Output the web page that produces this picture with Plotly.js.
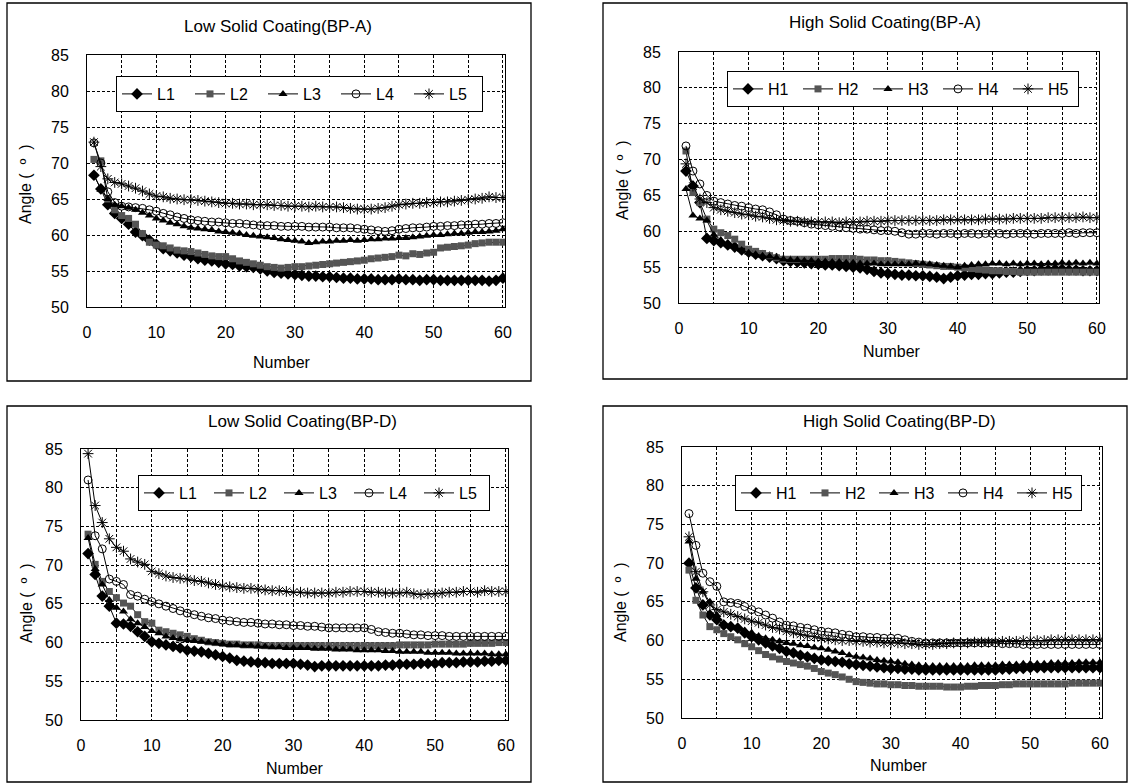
<!DOCTYPE html>
<html>
<head>
<meta charset="utf-8">
<script src="https://cdn.plot.ly/plotly-3.0.1.min.js"></script>
<style>html,body{margin:0;padding:0;background:#fff;}#chart{width:1133px;height:784px;}</style>
</head>
<body>
<div id="chart"></div>
<script>
const number = [1,2,3,4,5,6,7,8,9,10,11,12,13,14,15,16,17,18,19,20,21,22,23,24,25,26,27,28,29,30,31,32,33,34,35,36,37,38,39,40,41,42,43,44,45,46,47,48,49,50,51,52,53,54,55,56,57,58,59,60];

const panelTitles = ["Low Solid Coating(BP-A)", "High Solid Coating(BP-A)", "Low Solid Coating(BP-D)", "High Solid Coating(BP-D)"];
const lowNames = ["L1","L2","L3","L4","L5"];
const highNames = ["H1","H2","H3","H4","H5"];
const xTickVals = [0,10,20,30,40,50,60];
const yTickVals = [50,55,60,65,70,75,80,85];

// Low Solid Coating (BP-A)
const lowA_L1 = [68.3,66.4,64.2,63.0,62.3,61.5,60.4,59.9,59.3,58.7, 58.1,57.8,57.5,57.2,57.0,56.7,56.5,56.4,56.2,56.0, 55.9,55.7,55.6,55.5,55.3,55.0,54.8,54.7,54.6,54.5, 54.4,54.3,54.3,54.2,54.2,54.1,54.0,54.0,53.9,53.9, 53.9,53.8,53.8,53.8,53.9,53.8,53.8,53.7,53.8,53.8, 53.7,53.7,53.7,53.7,53.7,53.7,53.7,53.6,53.7,54.0];
const lowA_L2 = [70.5,70.3,65.0,63.5,62.7,62.3,61.5,60.2,59.0,58.6, 58.5,58.2,57.9,57.8,57.7,57.5,57.3,57.1,57.0,57.0, 56.7,56.4,56.2,56.0,55.8,55.6,55.5,55.4,55.5,55.6, 55.6,55.7,55.8,55.9,56.0,56.1,56.2,56.3,56.4,56.5, 56.7,56.8,56.9,57.0,57.2,57.1,57.4,57.3,57.5,57.6, 58.2,58.3,58.4,58.5,58.6,58.8,58.9,59.0,59.0,59.0];
const lowA_L3 = [68.4,66.3,65.0,64.2,64.0,63.8,63.5,63.1,62.7,62.3, 62.0,61.7,61.5,61.2,61.0,60.9,60.8,60.7,60.5,60.4, 60.3,60.2,60.0,59.9,59.8,59.7,59.6,59.4,59.3,59.2, 59.1,58.9,59.0,59.1,59.1,59.2,59.2,59.3,59.2,59.3, 59.4,59.4,59.5,59.5,59.6,59.6,59.7,59.8,59.9,60.0, 60.0,60.1,60.2,60.2,60.3,60.4,60.4,60.5,60.6,60.8];
const lowA_L4 = [72.8,70.0,66.0,64.5,64.0,63.9,63.8,63.7,63.5,63.3, 63.0,62.8,62.5,62.3,62.1,62.0,61.9,61.8,61.8,61.7, 61.6,61.6,61.5,61.4,61.3,61.3,61.3,61.2,61.2,61.2, 61.2,61.1,61.1,61.1,61.1,61.0,61.0,61.0,60.9,60.8, 60.7,60.6,60.5,60.6,60.8,60.9,61.0,61.0,61.1,61.2, 61.2,61.3,61.3,61.4,61.4,61.5,61.5,61.6,61.6,61.7];
const lowA_L5 = [72.9,69.5,67.8,67.3,67.1,66.8,66.5,66.1,65.7,65.4, 65.3,65.1,65.0,64.9,64.9,64.8,64.7,64.6,64.5,64.4, 64.4,64.3,64.3,64.2,64.2,64.2,64.1,64.1,64.0,64.0, 64.0,63.9,64.0,63.9,63.9,63.9,63.8,63.7,63.6,63.6, 63.6,63.7,63.8,64.0,64.2,64.3,64.4,64.4,64.5,64.5, 64.6,64.6,64.7,64.8,64.9,65.0,65.1,65.3,65.2,65.2];

// High Solid Coating (BP-A)
const highA_H1 = [68.4,66.3,64.0,59.0,58.7,58.4,58.1,57.8,57.4,57.1, 56.8,56.6,56.4,56.2,55.9,55.8,55.7,55.6,55.5,55.4, 55.3,55.3,55.2,55.1,55.0,54.9,54.7,54.4,54.2,54.1, 54.0,53.9,53.9,53.8,53.8,53.7,53.6,53.4,53.6,53.8, 53.9,54.0,54.0,54.1,54.1,54.2,54.3,54.3,54.4,54.5, 54.5,54.6,54.6,54.7,54.7,54.6,54.6,54.5,54.5,54.5];
const highA_H2 = [71.2,65.4,64.0,61.7,60.3,59.8,59.4,58.9,58.2,57.5, 57.2,56.9,56.6,56.3,56.1,56.1,56.1,56.1,56.1,56.1, 56.1,56.2,56.2,56.2,56.2,56.1,56.0,56.0,55.9,55.9, 55.8,55.7,55.6,55.5,55.4,55.3,55.2,55.1,55.1,55.0, 54.9,54.8,54.7,54.6,54.5,54.5,54.4,54.4,54.3,54.3, 54.3,54.3,54.3,54.3,54.3,54.3,54.3,54.3,54.3,54.3];
const highA_H3 = [65.9,62.2,61.8,61.5,59.5,58.8,58.2,57.8,57.4,57.0, 56.8,56.6,56.5,56.3,56.1,56.0,56.0,55.9,55.9,55.8, 55.8,55.7,55.7,55.6,55.6,55.5,55.5,55.5,55.4,55.4, 55.4,55.4,55.4,55.5,55.5,55.4,55.3,55.2,55.1,55.0, 55.2,55.3,55.4,55.4,55.5,55.5,55.4,55.5,55.4,55.5, 55.5,55.4,55.5,55.5,55.6,55.5,55.6,55.5,55.6,55.5];
const highA_H4 = [71.9,68.4,66.6,65.0,64.2,64.0,63.8,63.6,63.5,63.3, 63.1,63.0,62.7,62.3,61.7,61.5,61.4,61.2,61.0,60.9, 60.8,60.7,60.6,60.5,60.4,60.3,60.3,60.2,60.1,60.1, 60.0,59.8,59.6,59.6,59.7,59.7,59.6,59.7,59.7,59.6, 59.7,59.7,59.6,59.7,59.7,59.7,59.6,59.7,59.7,59.7, 59.6,59.7,59.7,59.7,59.7,59.8,59.7,59.8,59.8,59.8];
const highA_H5 = [69.4,66.3,64.5,64.0,63.3,63.0,62.8,62.6,62.4,62.3, 62.1,62.0,61.8,61.6,61.5,61.4,61.4,61.3,61.3,61.3, 61.3,61.3,61.2,61.3,61.3,61.3,61.4,61.4,61.4,61.5, 61.5,61.5,61.5,61.5,61.5,61.5,61.5,61.6,61.6,61.6, 61.6,61.6,61.6,61.7,61.7,61.7,61.7,61.8,61.8,61.8, 61.8,61.8,61.9,61.9,61.9,61.9,61.9,62.0,61.9,61.9];

// Low Solid Coating (BP-D)
const lowD_L1 = [71.5,68.8,66.0,64.7,62.5,62.4,62.1,61.4,60.8,60.1, 59.9,59.7,59.5,59.3,59.0,58.9,58.8,58.6,58.4,58.2, 58.0,57.7,57.6,57.5,57.4,57.4,57.3,57.3,57.3,57.3, 57.2,57.1,56.9,57.0,57.0,57.0,57.0,57.0,57.0,57.0, 57.0,57.0,57.1,57.1,57.2,57.2,57.2,57.3,57.3,57.3, 57.4,57.4,57.4,57.5,57.5,57.5,57.6,57.6,57.7,57.7];
const lowD_L2 = [74.0,70.1,67.9,66.6,65.8,65.1,64.7,63.6,62.7,62.5, 61.6,61.4,61.2,61.0,60.8,60.5,60.3,60.1,60.0,59.9, 59.8,59.8,59.7,59.7,59.7,59.6,59.6,59.6,59.6,59.6, 59.6,59.6,59.6,59.6,59.6,59.6,59.6,59.6,59.6,59.6, 59.6,59.6,59.6,59.6,59.7,59.7,59.7,59.7,59.7,59.8, 59.8,59.8,59.8,59.8,59.9,59.9,59.9,59.9,60.0,60.0];
const lowD_L3 = [73.5,69.5,67.5,65.5,64.5,64.0,63.0,62.5,62.0,61.5, 61.2,60.8,60.6,60.4,60.3,60.2,60.1,60.0,59.9,59.8, 59.7,59.7,59.6,59.6,59.5,59.5,59.4,59.4,59.3,59.3, 59.3,59.3,59.2,59.2,59.2,59.1,59.1,59.1,59.0,59.0, 59.0,59.0,58.9,58.9,58.8,58.8,58.8,58.8,58.7,58.7, 58.7,58.7,58.6,58.6,58.6,58.6,58.6,58.5,58.5,58.5];
const lowD_L4 = [81.0,73.8,72.1,68.2,67.9,67.5,66.2,66.0,65.6,65.3, 65.0,64.7,64.4,64.1,63.8,63.6,63.4,63.2,63.1,62.9, 62.8,62.7,62.6,62.6,62.5,62.4,62.4,62.3,62.3,62.2, 62.2,62.1,62.1,62.0,61.9,61.9,61.9,61.9,61.9,61.9, 61.7,61.4,61.3,61.2,61.2,61.1,61.0,61.0,60.9,60.9, 60.9,60.8,60.8,60.8,60.8,60.8,60.8,60.8,60.8,60.8];
const lowD_L5 = [84.4,77.7,75.5,73.4,72.3,71.8,70.8,70.4,70.1,69.2, 68.9,68.6,68.4,68.3,68.2,68.0,67.9,67.7,67.5,67.3, 67.2,67.1,67.0,67.0,66.9,66.8,66.7,66.7,66.6,66.5, 66.5,66.4,66.4,66.4,66.4,66.5,66.5,66.6,66.6,66.6, 66.5,66.5,66.4,66.4,66.4,66.5,66.3,66.2,66.3,66.3, 66.4,66.5,66.5,66.6,66.6,66.5,66.7,66.6,66.6,66.6];

// High Solid Coating (BP-D)
const highD_H1 = [70.0,66.8,64.6,63.3,62.7,62.0,61.8,61.6,61.0,60.5, 60.1,59.7,59.3,59.0,58.6,58.4,58.1,57.9,57.7,57.5, 57.4,57.3,57.2,57.0,56.9,56.8,56.7,56.6,56.5,56.4, 56.4,56.3,56.3,56.2,56.2,56.2,56.2,56.2,56.2,56.2, 56.2,56.2,56.2,56.2,56.2,56.3,56.3,56.4,56.4,56.5, 56.5,56.5,56.5,56.5,56.5,56.5,56.5,56.5,56.5,56.5];
const highD_H2 = [69.1,65.2,63.3,61.8,61.4,60.9,60.5,60.1,59.6,59.2, 58.7,58.2,57.9,57.6,57.3,57.1,56.9,56.7,56.4,56.0, 55.8,55.6,55.3,55.0,54.7,54.6,54.5,54.4,54.4,54.3, 54.3,54.2,54.2,54.1,54.1,54.1,54.1,54.0,54.0,54.0, 54.1,54.1,54.2,54.2,54.2,54.3,54.3,54.4,54.4,54.4, 54.4,54.4,54.4,54.4,54.4,54.5,54.5,54.5,54.5,54.5];
const highD_H3 = [72.8,68.0,66.3,65.0,63.3,62.2,61.9,61.6,61.3,61.0, 60.6,60.3,60.1,59.9,59.7,59.6,59.4,59.3,59.1,59.0, 58.8,58.6,58.4,58.1,57.9,57.8,57.7,57.5,57.4,57.3, 57.2,57.0,56.9,56.8,56.7,56.7,56.7,56.7,56.7,56.7, 56.7,56.8,56.8,56.8,56.8,56.9,56.9,56.9,57.0,57.0, 57.0,57.0,57.1,57.1,57.1,57.1,57.2,57.2,57.2,57.2];
const highD_H4 = [76.4,72.3,68.7,67.6,67.0,65.0,64.9,64.8,64.4,64.0, 63.7,63.3,62.9,62.4,62.0,61.9,61.7,61.6,61.4,61.2, 61.1,61.0,60.8,60.7,60.5,60.5,60.4,60.4,60.3,60.3, 60.3,60.1,59.9,59.8,59.7,59.7,59.7,59.7,59.7,59.7, 59.7,59.7,59.7,59.7,59.7,59.6,59.6,59.6,59.5,59.5, 59.5,59.5,59.5,59.5,59.5,59.5,59.5,59.5,59.5,59.5];
const highD_H5 = [73.4,68.9,66.3,64.6,64.0,63.7,63.4,63.1,62.8,62.5, 62.3,62.0,61.7,61.5,61.2,61.0,60.8,60.6,60.5,60.3, 60.2,60.1,60.0,60.0,59.9,59.9,59.8,59.8,59.7,59.7, 59.7,59.6,59.6,59.5,59.5,59.5,59.6,59.6,59.7,59.7, 59.7,59.8,59.8,59.8,59.8,59.9,59.9,59.9,60.0,60.0, 60.0,60.0,60.1,60.1,60.1,60.1,60.1,60.1,60.1,60.1];

const panelSeries = [
  [lowA_L1, lowA_L2, lowA_L3, lowA_L4, lowA_L5],
  [highA_H1, highA_H2, highA_H3, highA_H4, highA_H5],
  [lowD_L1, lowD_L2, lowD_L3, lowD_L4, lowD_L5],
  [highD_H1, highD_H2, highD_H3, highD_H4, highD_H5]
];
const panelNames = [lowNames, highNames, lowNames, highNames];

// styles
const FONT = "Arial, 'Liberation Sans', sans-serif";
const W = 1133, H = 784;
const markerStyles = [
  {symbol: 'diamond', size: 9, color: '#000', line: {width: 0}},
  {symbol: 'square', size: 7, color: '#555', line: {width: 0}},
  {symbol: 'triangle-up', size: 8, color: '#000', line: {width: 0}},
  {symbol: 'circle-open', size: 8, color: '#000', line: {width: 1}},
  {symbol: 'asterisk-open', size: 9, color: '#000', line: {width: 1, color: '#000'}}
];
// pixel geometry: plot area [left, right, top, bottom], outer box, titles, legends
const plots = [
  [87, 505, 55, 307],
  [679, 1099, 52, 303],
  [81, 508, 449, 720],
  [682, 1102, 447, 718]
];
const boxes = [
  [7, 531, 3, 381],
  [603, 1127, 3, 379],
  [7, 531, 406, 782],
  [603, 1127, 406, 782]
];
const titlePos = [[278, 26], [885, 23], [302, 421], [899, 422]];
const yTitlePos = [[25, 184], [623, 180], [26, 603], [620, 602]];
const xTitlePos = [[282, 362], [892, 351], [295, 768], [899, 765]];
const legendPos = [[116, 76], [727, 71], [138, 475], [735, 475]];
const legendEntryW = [28, 25, 25, 24];

const px = v => v / W;
const py = v => 1 - v / H;

const data = [];
const layout = {
  width: W, height: H,
  margin: {l: 0, r: 0, t: 0, b: 0},
  paper_bgcolor: '#fff', plot_bgcolor: '#fff',
  font: {family: FONT, size: 15, color: '#000'},
  showlegend: true,
  shapes: [], annotations: []
};

for (let p = 0; p < 4; p++) {
  const sfx = p === 0 ? '' : String(p + 1);
  const legName = 'legend' + sfx;
  for (let s = 0; s < 5; s++) {
    data.push({
      type: 'scatter', mode: 'lines+markers',
      x: number, y: panelSeries[p][s],
      name: panelNames[p][s],
      xaxis: 'x' + sfx, yaxis: 'y' + sfx,
      legend: legName,
      line: {color: '#000', width: 1},
      marker: markerStyles[s]
    });
  }
  const [l, r, t, b] = plots[p];
  layout['xaxis' + sfx] = {
    domain: [px(l), px(r)], anchor: 'y' + sfx,
    range: [0, 60.3], tickvals: xTickVals, ticks: '', showgrid: false,
    showline: true, mirror: true, linecolor: '#000', linewidth: 1,
    zeroline: false, ticklabelstandoff: 11,
    tickfont: {family: FONT, size: 16, color: '#000'},
    minor: {dtick: 5, tick0: 0, showgrid: true, gridcolor: '#000', gridwidth: 1, griddash: '3px,2px', ticks: ''}
  };
  layout['yaxis' + sfx] = {
    domain: [py(b), py(t)], anchor: 'x' + sfx,
    range: [50, 85], tickvals: yTickVals, ticks: '', showgrid: true,
    gridcolor: '#000', gridwidth: 1, griddash: '3px,2px',
    showline: true, mirror: true, linecolor: '#000', linewidth: 1,
    zeroline: false, ticklabelstandoff: 14,
    tickfont: {family: FONT, size: 16, color: '#000'}
  };
  layout[legName] = {
    x: px(legendPos[p][0]), y: py(legendPos[p][1]),
    xanchor: 'left', yanchor: 'top', xref: 'paper', yref: 'paper',
    orientation: 'h', bgcolor: '#fff', bordercolor: '#000', borderwidth: 1,
    font: {family: FONT, size: 16, color: '#000'},
    entrywidth: legendEntryW[p], entrywidthmode: 'pixels', itemwidth: 30,
    traceorder: 'normal'
  };
  const [bl, br, bt, bb] = boxes[p];
  layout.shapes.push({
    type: 'rect', xref: 'paper', yref: 'paper',
    x0: px(bl), x1: px(br), y0: py(bb), y1: py(bt),
    line: {color: '#000', width: 1.3}, fillcolor: 'rgba(0,0,0,0)', layer: 'below'
  });
  layout.annotations.push({
    text: panelTitles[p], xref: 'paper', yref: 'paper',
    x: px(titlePos[p][0]), y: py(titlePos[p][1]), xanchor: 'center', yanchor: 'middle',
    showarrow: false, font: {family: FONT, size: 17, color: '#000'}
  });
  layout.annotations.push({
    text: 'Angle (  º  )', xref: 'paper', yref: 'paper', textangle: -90,
    x: px(yTitlePos[p][0]), y: py(yTitlePos[p][1]), xanchor: 'center', yanchor: 'middle',
    showarrow: false, font: {family: FONT, size: 16, color: '#000'}
  });
  layout.annotations.push({
    text: 'Number', xref: 'paper', yref: 'paper',
    x: px(xTitlePos[p][0]), y: py(xTitlePos[p][1]), xanchor: 'center', yanchor: 'middle',
    showarrow: false, font: {family: FONT, size: 16, color: '#000'}
  });
}

Plotly.newPlot('chart', data, layout, {displayModeBar: false, staticPlot: true});
</script>
</body>
</html>
